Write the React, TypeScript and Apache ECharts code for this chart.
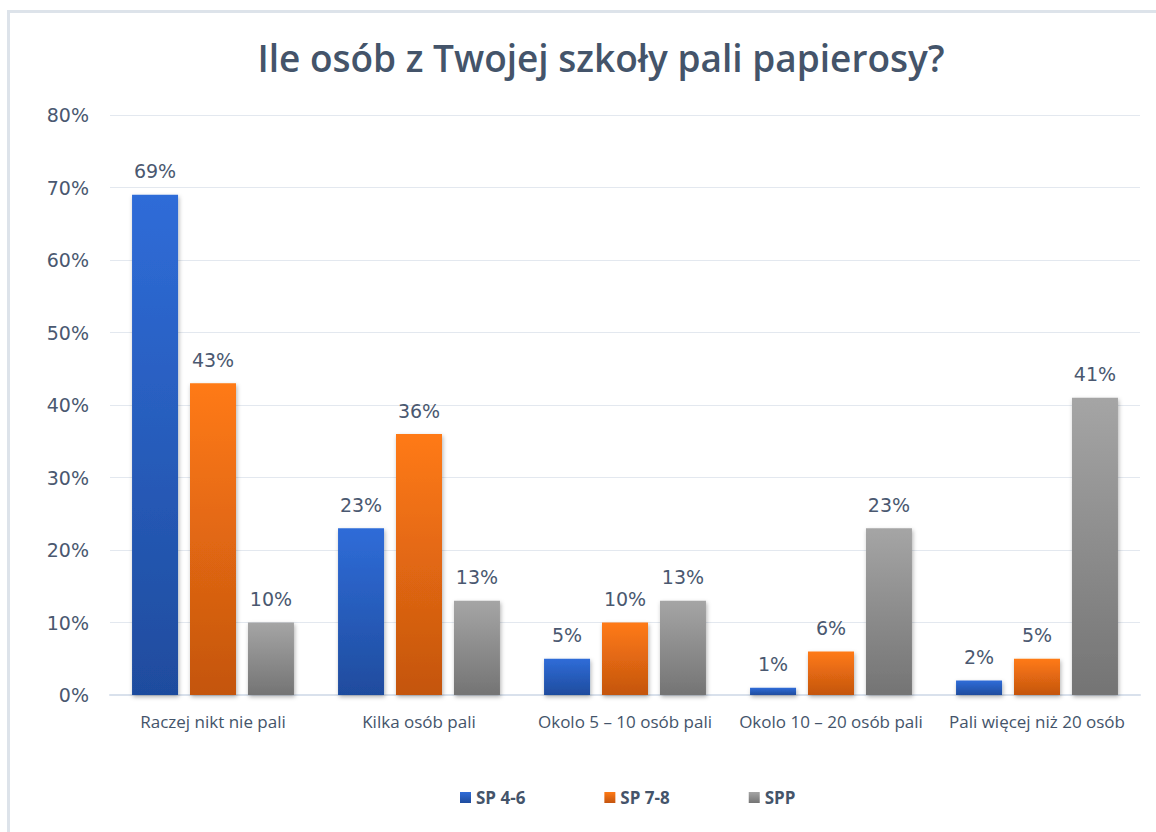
import React, { useEffect, useRef } from "react";
import * as echarts from "echarts";

const categories = [
  "Raczej nikt nie pali",
  "Kilka osób pali",
  "Okolo 5 – 10 osób pali",
  "Okolo 10 – 20 osób pali",
  "Pali więcej niż 20 osób",
];
const seriesNames = ["SP 4-6", "SP 7-8", "SPP"];
const sp46 = [69, 23, 5, 1, 2];
const sp78 = [43, 36, 10, 6, 5];
const spp = [10, 13, 13, 23, 41];
const yTicks = [0, 10, 20, 30, 40, 50, 60, 70, 80];
const titleText = "Ile osób z Twojej szkoły pali papierosy?";

const SANS = '"Open Sans", sans-serif';
const DEJA = '"DejaVu Sans", sans-serif';
const TXT = "#44546a";

function grad(top: string, bottom: string) {
  return new echarts.graphic.LinearGradient(0, 0, 0, 1, [
    { offset: 0, color: top },
    { offset: 1, color: bottom },
  ]);
}

export default function App() {
  const ref = useRef<HTMLDivElement>(null);
  useEffect(() => {
    if (!ref.current) return;
    const chart = echarts.init(ref.current, undefined, { renderer: "svg" });
    const colors = [
      ["#2f6cd8", "#1f4c9e"],
      ["#ff7a15", "#c4550f"],
      ["#a5a5a5", "#747474"],
    ];
    const datas = [sp46, sp78, spp];
    chart.setOption({
      animation: false,
      backgroundColor: "#ffffff",
      graphic: [
        {
          type: "rect",
          shape: { x: 8.5, y: 11.5, width: 1170, height: 840 },
          style: { fill: "none", stroke: "#dde3ea", lineWidth: 3 },
          silent: true,
        },
        {
          type: "text",
          x: 601,
          y: 57,
          style: {
            text: titleText,
            fontFamily: SANS,
            fontSize: 37,
            fontWeight: 600,
            fill: TXT,
            textAlign: "center",
            textVerticalAlign: "middle",
          },
        },
      ],
      legend: {
        left: 455,
        top: 784,
        itemWidth: 11,
        itemHeight: 11,
        itemGap: 79,
        icon: "rect",
        textStyle: { fontFamily: SANS, fontSize: 17, fontWeight: "bold", color: TXT },
        data: seriesNames,
      },
      grid: { left: 110, right: 16, top: 115, bottom: 137 },
      xAxis: {
        type: "category",
        data: categories,
        axisTick: { show: false },
        axisLine: { lineStyle: { color: "#d9e1ec", width: 2 } },
        axisLabel: { fontFamily: SANS, fontSize: 17, color: TXT, margin: 18, interval: 0 },
      },
      yAxis: {
        type: "value",
        min: 0,
        max: 80,
        interval: 10,
        axisLine: { show: false },
        axisTick: { show: false },
        splitLine: { lineStyle: { color: "#e3e8ef", width: 1 } },
        axisLabel: {
          formatter: (v: number) => (yTicks.includes(v) ? v + "%" : ""),
          fontFamily: DEJA,
          fontSize: 19,
          color: "#4a5870",
          margin: 21,
        },
      },
      series: seriesNames.map((name, i) => ({
        name,
        type: "bar",
        data: datas[i],
        barWidth: 46,
        barGap: "26%",
        itemStyle: {
          color: grad(colors[i][0], colors[i][1]),
          shadowBlur: 4,
          shadowColor: "rgba(0,0,0,0.3)",
          shadowOffsetY: 2,
          shadowOffsetX: 1,
        },
        label: {
          show: true,
          position: "top",
          distance: 14,
          formatter: "{c}%",
          fontFamily: DEJA,
          fontSize: 19,
          color: "#4a5870",
        },
      })),
    });
    return () => chart.dispose();
  }, []);
  return (
    <div
      ref={ref}
      style={{ position: "absolute", left: 0, top: 0, width: 1156, height: 832 }}
    />
  );
}
